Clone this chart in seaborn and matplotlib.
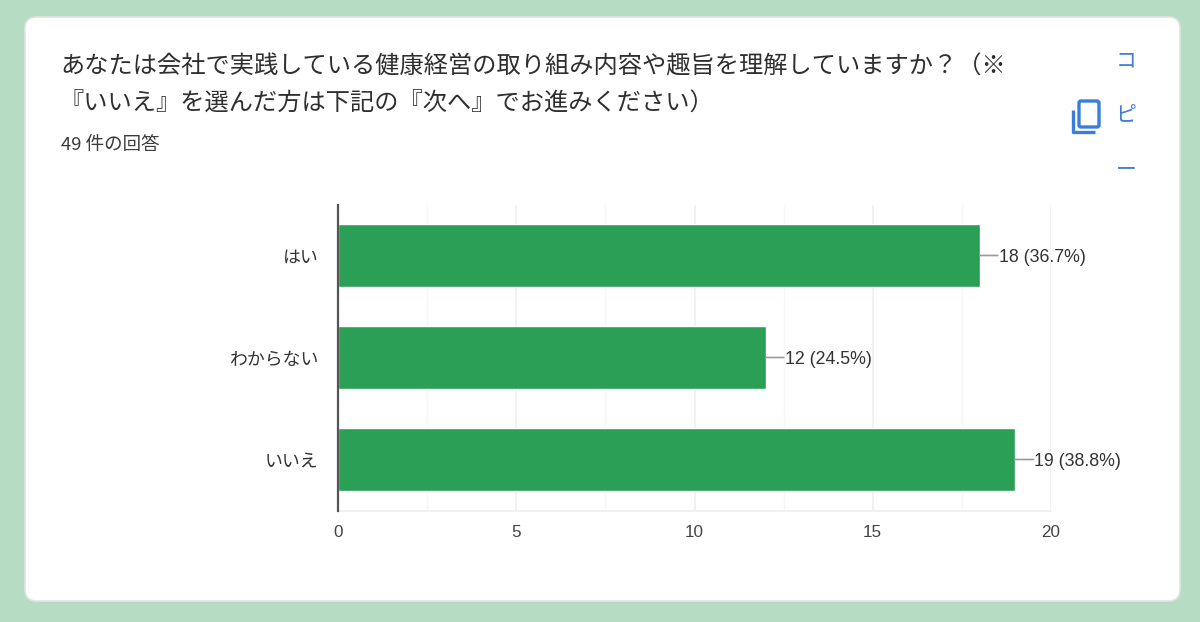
import pandas as pd
import seaborn as sns
from matplotlib import pyplot as plt
from matplotlib.patches import FancyBboxPatch

# datos del grafico
categories = ['はい', 'わからない', 'いいえ']
counts = [18, 12, 19]
value_labels = ['18 (36.7%)', '12 (24.5%)', '19 (38.8%)']
major_ticks = [0, 5, 10, 15, 20]
minor_ticks = [2.5, 7.5, 12.5, 17.5]
title_lines = ['あなたは会社で実践している健康経営の取り組み内容や趣旨を理解していますか？（※',
               '『いいえ』を選んだ方は下記の『次へ』でお進みください）']
subtitle = '49 件の回答'
copy_chars = ['コ', 'ピ', 'ー']

W, H = 1200, 622
GREEN = '#2c9f57'
BLUE = '#3b7ddd'
JP = ['Noto Sans CJK JP', 'DejaVu Sans']
LATIN = ['Liberation Sans', 'Noto Sans CJK JP']

sns.set_theme(style='white')
plt.rcParams['font.family'] = JP

fig = plt.figure(figsize=(W / 100, H / 100), dpi=100, facecolor='#b7dcc4')

# fondo en pixeles: tarjeta blanca e icono de copiar
bg = fig.add_axes([0, 0, 1, 1])
bg.set_xlim(0, W)
bg.set_ylim(H, 0)
bg.axis('off')
bg.add_patch(FancyBboxPatch((25, 17), 1155, 584, boxstyle='round,pad=0,rounding_size=12',
                            fc='white', ec='#e2e6e3', lw=1.2))
bg.add_patch(FancyBboxPatch((1079, 101), 20, 26, boxstyle='round,pad=0,rounding_size=2',
                            fc='none', ec=BLUE, lw=2.4))
bg.plot([1073, 1073, 1095], [110, 132, 132], color=BLUE, lw=2.4, solid_capstyle='butt')

bg.text(60, 66, title_lines[0], fontsize=17.45, color='#2f2f2f', va='center', ha='left')
bg.text(60, 104, title_lines[1], fontsize=17.45, color='#2f2f2f', va='center', ha='left')
bg.text(61, 145, subtitle, fontsize=13.3, color='#3c3c3c', va='center', ha='left')
for ch, y in zip(copy_chars, [61, 115, 170]):
    bg.text(1126, y, ch, fontsize=15, color=BLUE, va='center', ha='center')

# grafico de barras
left, right, top, bottom = 338, 1051, 205, 511
ax = fig.add_axes([left / W, 1 - bottom / H, (right - left) / W, (bottom - top) / H])
ax.patch.set_alpha(0)
df = pd.DataFrame({'respuesta': categories, 'n': counts})
sns.barplot(data=df, x='n', y='respuesta', color=GREEN, saturation=1, width=0.625, ax=ax, zorder=3)

ax.set_xlim(0, 20)
ax.set_ylim(2.505, -0.495)
ax.set_xlabel('')
ax.set_ylabel('')
ax.set_xticks(major_ticks)
ax.set_xticks(minor_ticks, minor=True)
ax.grid(axis='x', which='major', color='#efefef', lw=1.2, zorder=0)
ax.grid(axis='x', which='minor', color='#f6f6f6', lw=1, zorder=0)
ax.tick_params(axis='both', which='both', length=0)
ax.tick_params(axis='x', pad=10, labelsize=12.3, labelcolor='#444444')
ax.tick_params(axis='y', pad=14, labelsize=12.9, labelcolor='#333333')
for lab in ax.get_xticklabels():
    lab.set_fontfamily(LATIN)

for s in ['top', 'right']:
    ax.spines[s].set_visible(False)
ax.spines['left'].set_color('#555555')
ax.spines['left'].set_linewidth(1.6)
ax.spines['left'].set_zorder(5)
ax.spines['bottom'].set_color('#efefef')
ax.spines['bottom'].set_linewidth(1.2)

for i, (v, lab) in enumerate(zip(counts, value_labels)):
    # linea guia y etiqueta por separado
    ax.annotate('', xy=(v, i), xytext=(18, 0), textcoords='offset pixels',
                arrowprops=dict(arrowstyle='-', color='#9a9a9a', lw=1.2, shrinkA=0, shrinkB=0))
    ax.annotate(lab, xy=(v, i), xytext=(19, -2), textcoords='offset pixels', va='center', ha='left',
                fontsize=12.8, color='#333333', family=LATIN, zorder=6)

fig.savefig('out.png', dpi=100, facecolor=fig.get_facecolor())
